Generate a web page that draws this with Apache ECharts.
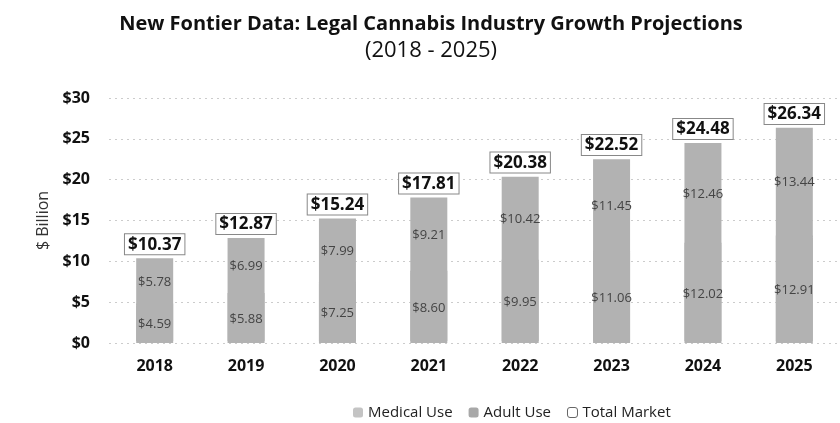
<!DOCTYPE html>
<html>
<head>
<meta charset="utf-8">
<script src="https://cdn.jsdelivr.net/npm/echarts@6/dist/echarts.min.js"></script>
<style>
html,body{margin:0;padding:0;background:#fff;}
#chart{width:840px;height:423px;}
</style>
</head>
<body>
<div id="chart"></div>
<script>
// 年份与数据
const years = ['2018', '2019', '2020', '2021', '2022', '2023', '2024', '2025'];
const medicalUse = [4.59, 5.88, 7.25, 8.60, 9.95, 11.06, 12.02, 12.91];
const adultUse = [5.78, 6.99, 7.99, 9.21, 10.42, 11.45, 12.46, 13.44];
const totalMarket = [10.37, 12.87, 15.24, 17.81, 20.38, 22.52, 24.48, 26.34];
const yTicks = [0, 5, 10, 15, 20, 25, 30];

const myChart = echarts.init(document.getElementById('chart'));
const font = 'Open Sans';
const barGray = '#b2b2b2';

const segLabel = {
    show: true,
    position: 'inside',
    color: '#444',
    fontSize: 13,
    fontFamily: font,
    formatter: p => '$' + p.value.toFixed(2)
};

const option = {
    animation: false,
    backgroundColor: '#fff',
    title: {
        text: 'New Fontier Data: Legal Cannabis Industry Growth Projections',
        subtext: '(2018 - 2025)',
        left: 426,
        textAlign: 'center',
        top: 9,
        itemGap: 6,
        textStyle: { fontFamily: font, fontWeight: 'bold', fontSize: 20, color: '#111' },
        subtextStyle: { fontFamily: font, fontSize: 22, color: '#111' }
    },
    legend: {
        left: 348,
        top: 400,
        itemWidth: 10,
        itemHeight: 10,
        itemGap: 16,
        textStyle: { fontFamily: font, fontSize: 15, color: '#222' },
        data: [
            { name: 'Medical Use', itemStyle: { color: '#c4c4c4' } },
            { name: 'Adult Use', itemStyle: { color: '#a8a8a8' } },
            { name: 'Total Market', itemStyle: { color: '#fff', borderColor: '#666', borderWidth: 1 } }
        ]
    },
    grid: {
        left: 109,
        top: 98,
        width: 739,
        height: 245,
        containLabel: false
    },
    xAxis: {
        type: 'category',
        data: years,
        axisLine: { show: false },
        axisTick: { show: false },
        axisLabel: { fontFamily: font, fontWeight: 'bold', fontSize: 16, color: '#111', margin: 15 }
    },
    yAxis: {
        type: 'value',
        min: yTicks[0],
        max: yTicks[yTicks.length - 1],
        interval: 5,
        name: '$ Billion',
        nameLocation: 'middle',
        nameGap: 56,
        nameTextStyle: { fontFamily: font, fontSize: 16, color: '#333' },
        axisLine: { show: false },
        axisTick: { show: false },
        axisLabel: { fontFamily: font, fontWeight: 'bold', fontSize: 16, color: '#111', margin: 19, formatter: v => '$' + v },
        splitLine: { lineStyle: { color: '#ccc', type: [2, 4] } }
    },
    series: [
        {
            name: 'Medical Use',
            type: 'bar',
            stack: 'm',
            barWidth: 37,
            itemStyle: { color: barGray, shadowColor: barGray, shadowBlur: 0, shadowOffsetY: -2 },
            label: segLabel,
            data: medicalUse
        },
        {
            name: 'Adult Use',
            type: 'bar',
            stack: 'm',
            barWidth: 37,
            itemStyle: { color: barGray },
            label: segLabel,
            data: adultUse
        },
        {
            name: 'Total Market',
            type: 'bar',
            barWidth: 37,
            barGap: '-100%',
            z: 5,
            itemStyle: { color: 'rgba(0,0,0,0)' },
            label: {
                show: true,
                position: 'top',
                distance: 4,
                fontFamily: font,
                fontWeight: 'bold',
                fontSize: 17,
                color: '#111',
                backgroundColor: '#fff',
                borderColor: '#888',
                borderWidth: 1,
                padding: [2, 3, 1, 3],
                formatter: p => '$' + p.value.toFixed(2)
            },
            data: totalMarket
        }
    ]
};
myChart.setOption(option);
</script>
</body>
</html>
